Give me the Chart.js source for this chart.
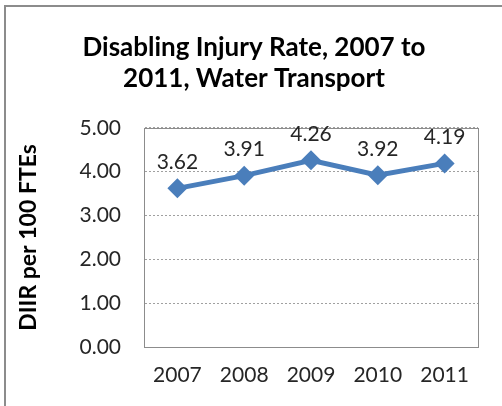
<!DOCTYPE html>
<html><head><meta charset="utf-8">
<script src="https://cdn.jsdelivr.net/npm/chart.js@4/dist/chart.umd.min.js"></script>
<style>
html,body{margin:0;padding:0;background:#fff;}
#wrap{position:absolute;left:0;top:0;width:502px;height:406px;}
#frame{position:absolute;left:4px;top:5px;width:498px;height:401px;border-top:2px solid #8c8c8c;border-left:2px solid #8c8c8c;box-sizing:border-box;}
canvas{position:absolute;left:0;top:0;}
</style></head>
<body>
<div id="wrap"><div id="frame"></div><canvas id="c" width="502" height="406"></canvas></div>
<script>
const categories = ['2007','2008','2009','2010','2011'];
const rates = [3.62, 3.91, 4.26, 3.92, 4.19];
const yTicks = [0, 1, 2, 3, 4, 5];
const titleLines = ['Disabling Injury Rate, 2007 to', '2011, Water Transport'];
const yTitle = 'DIIR per 100 FTEs';

const FONT = 'Lato, "Liberation Sans", sans-serif';

const frameAndLabels = {
  id: 'frameAndLabels',
  afterDraw(chart) {
    const {ctx, chartArea: a} = chart;
    ctx.save();
    ctx.strokeStyle = '#8c8c8c';
    ctx.lineWidth = 1;
    ctx.strokeRect(Math.round(a.left) + 0.5, Math.round(a.top) + 0.5, Math.round(a.right - a.left), Math.round(a.bottom - a.top));
    ctx.restore();
    const meta = chart.getDatasetMeta(0);
    ctx.save();
    ctx.font = '21px ' + FONT;
    ctx.fillStyle = '#262626';
    ctx.textAlign = 'center';
    ctx.textBaseline = 'middle';
    meta.data.forEach((pt, i) => {
      ctx.fillText(rates[i].toFixed(2), pt.x, pt.y - 26);
    });
    ctx.restore();
  }
};

new Chart(document.getElementById('c'), {
  type: 'line',
  data: {
    labels: categories,
    datasets: [{
      data: rates,
      borderColor: '#4a7ebb',
      backgroundColor: '#4a7ebb',
      borderWidth: 5,
      pointStyle: 'rectRot',
      pointRadius: 10,
      pointHoverRadius: 10,
      pointBorderWidth: 0,
      tension: 0
    }]
  },
  options: {
    responsive: false,
    animation: false,
    events: [],
    layout: { autoPadding: false, padding: { left: 6, right: 0, top: 32, bottom: 0 } },
    plugins: {
      legend: { display: false },
      tooltip: { enabled: false },
      title: {
        display: true,
        text: titleLines,
        color: '#000',
        font: { family: FONT, size: 26, weight: 'bold', lineHeight: 1.19 },
        padding: { top: 0, bottom: 34 }
      }
    },
    scales: {
      x: {
        offset: true,
        grid: { display: false, drawTicks: false },
        border: { display: false },
        ticks: { color: '#262626', font: { family: FONT, size: 21 }, padding: 16 },
        afterFit(scale) { scale.height = 59; }
      },
      y: {
        min: 0, max: 5,
        afterBuildTicks(scale) { scale.ticks = yTicks.map(v => ({ value: v })); },
        grid: { color: '#a0a0a0', lineWidth: 1, drawTicks: false },
        border: { display: true, color: 'rgba(0,0,0,0)', dash: [2, 2] },
        ticks: {
          color: '#262626', font: { family: FONT, size: 21 }, padding: 23,
          callback: v => Number(v).toFixed(2)
        },
        title: {
          display: true, text: yTitle, color: '#000',
          font: { family: FONT, size: 23, weight: 'bold' }, padding: { top: 9, bottom: 0 }
        },
        afterFit(scale) { scale.width = 138; }
      },
      spacer: {
        position: 'right',
        display: true,
        grid: { display: false, drawTicks: false },
        border: { display: false },
        ticks: { display: false },
        afterFit(scale) { scale.width = 24; }
      }
    }
  },
  plugins: [frameAndLabels]
});
</script>
</body></html>
